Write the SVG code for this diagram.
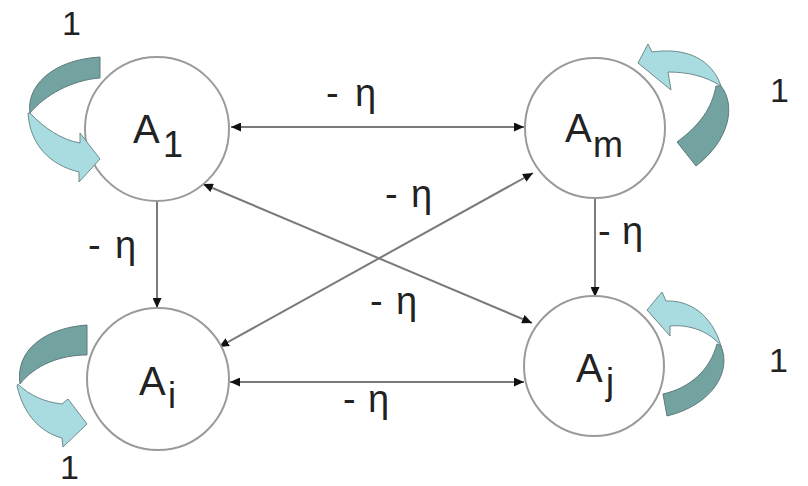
<svg xmlns="http://www.w3.org/2000/svg" width="808" height="486" viewBox="0 0 808 486">
<style>
.node circle{fill:#fff;stroke:#9a9a9a;stroke-width:2}
.lbl{font-family:"Liberation Sans",Arial,sans-serif;font-size:40px;fill:#222}
.sub{font-size:36px}
.edge{stroke:#7a7a7a;stroke-width:2;fill:none}
.both{marker-start:url(#ah);marker-end:url(#ah)}
.one{marker-end:url(#ah)}
.w{font-family:"Liberation Sans",Arial,sans-serif;font-size:38px;fill:#222}
.one-lbl{font-family:"Liberation Sans",Arial,sans-serif;font-size:34px;fill:#222}
.dark{fill:#72a3a1;stroke:#5f7a79;stroke-width:1}
.light{fill:#a8dce0;stroke:#6f8a8a;stroke-width:1}
</style>
<defs>
<marker id="ah" markerUnits="userSpaceOnUse" markerWidth="10" markerHeight="9" refX="10" refY="4.5" orient="auto-start-reverse">
<path d="M0,0 L10,4.5 L0,9 Z" fill="#111"/>
</marker>
</defs>
<rect width="808" height="486" fill="#fff"/>
<g id="connectors">
<line class="edge both" x1="231" y1="127" x2="524" y2="127"/>
<line class="edge both" x1="230" y1="382" x2="524" y2="382"/>
<line class="edge one" x1="157" y1="201" x2="157" y2="308"/>
<line class="edge one" x1="595" y1="199" x2="595" y2="297"/>
<line class="edge both" x1="203" y1="184" x2="532" y2="323"/>
<line class="edge both" x1="219" y1="347" x2="533" y2="173"/>
<text class="w" x="326" y="106">- <tspan x="355">η</tspan></text>
<text class="w" x="88" y="258">- <tspan x="115">η</tspan></text>
<text class="w" x="385" y="207">- <tspan x="411">η</tspan></text>
<text class="w" x="370" y="314">- <tspan x="396">η</tspan></text>
<text class="w" x="343" y="412">- <tspan x="368">η</tspan></text>
<text class="w" x="598" y="244">- <tspan x="622">η</tspan></text>
</g>
<g id="node-A1" class="node">
<circle cx="157" cy="129" r="72"/>
<text class="lbl" x="133" y="143">A<tspan class="sub" x="163" y="157">1</tspan></text>
</g>
<g id="node-Am" class="node">
<circle cx="595" cy="128" r="70"/>
<text class="lbl" x="565" y="142">A<tspan class="sub" x="593" y="157">m</tspan></text>
</g>
<g id="node-Ai" class="node">
<circle cx="158" cy="379" r="71"/>
<text class="lbl" x="139" y="395">A<tspan class="sub" x="168" y="408">i</tspan></text>
</g>
<g id="node-Aj" class="node">
<circle cx="594" cy="366" r="70"/>
<text class="lbl" x="576" y="382">A<tspan class="sub" x="606" y="394">j</tspan></text>
</g>
<g id="self-loops">
<g id="loop-A1">
<path class="dark" d="M100,57 L100,78 C72,80 45,95 30,113 C26,88 50,60 100,57 Z"/>
<path class="light" d="M30,113 C44,128 62,140 80,143 L80,133 L100,159 L79,182 L79,172 C50,165 30,145 28,113 Z"/>
<text class="one-lbl" x="62" y="35">1</text>
</g>
<g id="loop-Am">
<path class="light" d="M638,63 L648,44 L652,52 C688,47 712,60 721,86 C705,76 688,72 668,72 L671,90 Z"/>
<path class="dark" d="M721,86 C736,105 730,140 696,166 L677,142 C700,125 712,108 716,86 Z"/>
<text class="one-lbl" x="770" y="102">1</text>
</g>
<g id="loop-Ai">
<path class="dark" d="M87,325 L87,355 C60,355 35,365 20,384 C15,350 45,328 87,325 Z"/>
<path class="light" d="M18,384 C30,396 45,402 62,404 L68,399 L87,424 L63,447 L62,438 C40,432 24,415 17,386 Z"/>
<text class="one-lbl" x="60" y="479">1</text>
</g>
<g id="loop-Aj">
<path class="light" d="M647,310 L662,292 L666,301 C690,300 712,315 721,346 C710,332 690,324 670,326 L670,336 Z"/>
<path class="dark" d="M721,346 C732,372 712,405 667,416 L663,394 C690,388 710,370 717,344 Z"/>
<text class="one-lbl" x="769" y="372">1</text>
</g>
</g>
</svg>
